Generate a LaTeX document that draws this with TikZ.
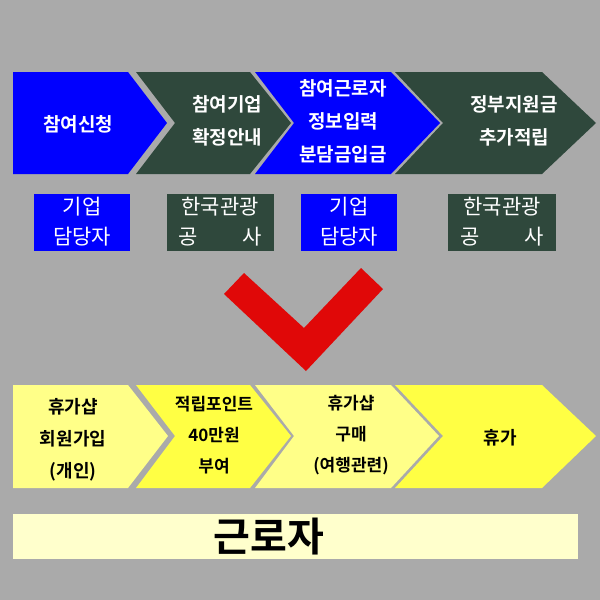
\documentclass[tikz,border=0pt]{standalone}
\usepackage{fontspec}
\setmainfont{Noto Sans CJK KR}
\newfontfamily\krb{Noto Sans CJK KR Bold}
\definecolor{bg}{HTML}{AAAAAA}
\definecolor{dg}{HTML}{2F483C}
\definecolor{bl}{HTML}{0000FF}
\definecolor{ly}{HTML}{FFFF88}
\definecolor{yy}{HTML}{FFFF44}
\definecolor{py}{HTML}{FFFFCC}
\definecolor{rd}{HTML}{E00808}
\tikzset{wt/.style={text=white,align=center,font=\krb\fontsize{19}{33}\selectfont},
bt/.style={text=black,align=center,font=\krb\fontsize{18}{32}\selectfont},
lt/.style={text=white,align=center,font=\fontsize{21}{30}\selectfont}}
\begin{document}
\begin{tikzpicture}[x=1pt,y=-1pt]
\fill[bg] (0,0) rectangle (600,600);
\useasboundingbox (0,0) rectangle (600,600);
% top row
\fill[bl] (13,72)--(128,72)--(167,123)--(128,174)--(13,174)--cycle;
\fill[dg] (136,72)--(250,72)--(291,123)--(250,174)--(136,174)--(175,123)--cycle;
\fill[bl] (255,72)--(391,72)--(440,123)--(391,174)--(255,174)--(294,123)--cycle;
\fill[dg] (395,72)--(542,72)--(596,123)--(542,174)--(395,174)--(443,123)--cycle;
\node[wt] (t1) at (78,124) {참여신청};
\node[wt] (t2) at (227,121) {참여기업\\확정안내};
\node[wt] (t3) at (343,121) {참여근로자\\정보입력\\분담금입금};
\node[wt] (t4) at (514,121) {정부지원금\\추가적립};
% label boxes
\fill[bl] (34,194) rectangle (130,251);
\fill[dg] (167,194) rectangle (274,251);
\fill[bl] (301,194) rectangle (397,251);
\fill[dg] (448,194) rectangle (556,251);
\node[lt] (l1) at (82,222) {기업\\담당자};
\node[lt] (l2) at (220,222) {한국관광\\공\hspace{2.1em}사};
\node[lt] (l3) at (349,222) {기업\\담당자};
\node[lt] (l4) at (502,222) {한국관광\\공\hspace{2.1em}사};
% check mark
\fill[rd] (224,294)--(244,273)--(304,328)--(361,268)--(383,289)--(306,371)--cycle;
% bottom row
\fill[ly] (13,385)--(128,385)--(168,436)--(128,488)--(13,488)--cycle;
\fill[yy] (136,385)--(250,385)--(291,436)--(250,488)--(136,488)--(175,436)--cycle;
\fill[ly] (255,385)--(391,385)--(439,436)--(391,488)--(255,488)--(294,436)--cycle;
\fill[yy] (395,385)--(542,385)--(596,436)--(542,488)--(395,488)--(443,436)--cycle;
\node[bt] (b1) at (73,440) {휴가샵\\회원가입\\(개인)};
\node[bt,font=\krb\fontsize{17}{31}\selectfont] (b2) at (214,435) {적립포인트\\40만원\\부여};
\node[bt,font=\krb\fontsize{17}{31}\selectfont] (b3) at (351,435) {휴가샵\\구매\\(여행관련)};
\node[bt] (b4) at (500,438) {휴가};
% worker bar
\fill[py] (13,514) rectangle (578,559);
\node[font=\krb\fontsize{40}{44}\selectfont] (w) at (269,537) {근로자};
\end{tikzpicture}
\end{document}
